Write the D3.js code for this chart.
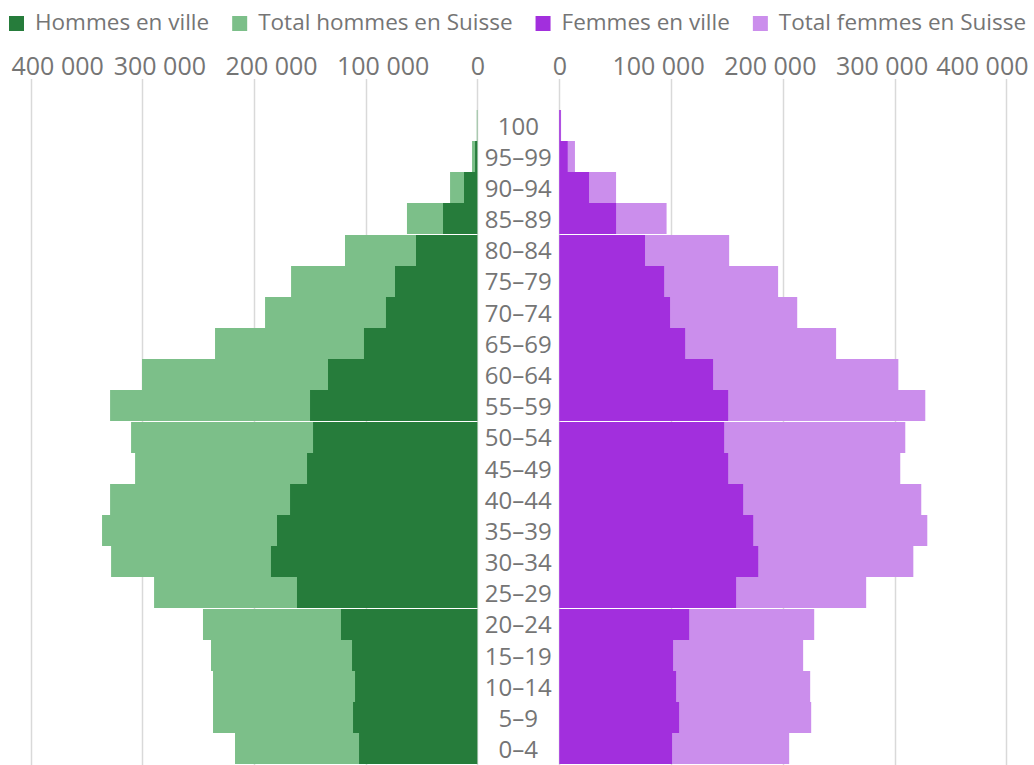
<!DOCTYPE html>
<html><head><meta charset="utf-8">
<script src="https://cdn.jsdelivr.net/npm/d3@7"></script>
<style>
html,body{margin:0;padding:0;background:#fff;}
svg{display:block;font-family:"Open Sans",sans-serif;}
</style></head>
<body><svg id="chart" width="1034" height="765"></svg>
<script>
const ageGroups = ["100","95–99","90–94","85–89","80–84","75–79","70–74","65–69","60–64","55–59","50–54","45–49","40–44","35–39","30–34","25–29","20–24","15–19","10–14","5–9","0–4"];
const hommesVille  = [100, 2000, 11900, 30700, 54900, 73700, 81800, 101500, 133700, 149800, 147100, 152500, 167700, 179400, 184800, 161500, 122100, 112200, 109500, 111300, 105900];
const hommesSuisse = [500, 4700, 24400, 63000, 118500, 166800, 190100, 234900, 300300, 328900, 310100, 306500, 328900, 336100, 328000, 289500, 245700, 238500, 236700, 236700, 217000];
const femmesVille  = [1200, 7500, 26600, 50800, 76700, 93800, 99100, 112600, 137600, 151100, 147500, 151100, 164500, 173500, 178000, 158200, 116200, 101800, 104500, 107200, 100900];
const femmesSuisse = [1600, 14000, 50800, 96000, 152000, 195800, 212900, 247700, 303400, 327500, 309600, 305100, 323900, 329300, 316800, 274600, 228100, 218200, 224500, 225400, 205700];
const tickValues = [0, 100000, 200000, 300000, 400000];
const seriesNames = ["Hommes en ville", "Total hommes en Suisse", "Femmes en ville", "Total femmes en Suisse"];
const seriesColors = ["#267c3b", "#7cbf89", "#a22fdd", "#cb8eec"];

const svg = d3.select("#chart");
const textColor = "#757575";
const fmt = v => d3.format(",")(v).replace(/,/g, " ");
const W = 1034;

const xL = d3.scaleLinear().domain([0, 400000]).range([477.3, 30.7]);
const xR = d3.scaleLinear().domain([0, 400000]).range([559.3, 1006.3]);
const y = d3.scaleBand().domain(ageGroups).range([110.4, 765]).paddingInner(0).paddingOuter(0);
const bh = Math.floor(y.bandwidth());

// gridlines
const grid = svg.append("g");
[xL, xR].forEach(sc => {
  grid.selectAll(null).data(tickValues).enter().append("line")
    .attr("x1", d => Math.round(sc(d)) + 0.5).attr("x2", d => Math.round(sc(d)) + 0.5)
    .attr("y1", 79).attr("y2", 765)
    .attr("stroke", "#d9d9d9").attr("stroke-width", 1.5);
});

// axes (top) - labels nudged inward like the original
function drawAxis(sc, shift) {
  const ax = d3.axisTop(sc).tickValues(tickValues).tickFormat(fmt).tickSize(0).tickPadding(0);
  const g = svg.append("g").attr("transform", "translate(0,75)").call(ax);
  g.select(".domain").remove();
  g.selectAll("text").attr("fill", textColor).style("font-size", "25px")
    .style("font-family", "'Open Sans',sans-serif").attr("dy", 0)
    .each(function(d) {
      if (d === 0) return;
      const w = this.getComputedTextLength();
      const cx = sc(d);
      let nx = cx + shift;
      nx = Math.max(nx, 11 + w / 2 - cx + cx);
      nx = Math.min(nx, W - 6 - w / 2);
      d3.select(this).attr("x", nx - cx);
    });
}
drawAxis(xL, 17);
drawAxis(xR, -13);

// bars
function bars(data, sc, color, side) {
  svg.append("g").selectAll("rect").data(data).enter().append("rect")
    .attr("x", (d) => side === "L" ? sc(d) : sc(0))
    .attr("width", d => Math.abs(sc(d) - sc(0)))
    .attr("y", (d, i) => Math.floor(y(ageGroups[i])))
    .attr("height", bh)
    .attr("fill", color);
}
bars(hommesSuisse, xL, seriesColors[1], "L");
bars(hommesVille, xL, seriesColors[0], "L");
bars(femmesSuisse, xR, seriesColors[3], "R");
bars(femmesVille, xR, seriesColors[2], "R");

// age labels
svg.append("g").selectAll("text").data(ageGroups).enter().append("text")
  .attr("x", (xL(0) + xR(0)) / 2)
  .attr("y", d => y(d) + y.bandwidth() / 2)
  .attr("dy", "0.36em")
  .attr("text-anchor", "middle")
  .attr("fill", textColor)
  .style("font-size", "24px")
  .text(d => d);

// legend
const leg = svg.append("g");
let lx = 9;
seriesNames.forEach((name, i) => {
  leg.append("rect").attr("x", lx).attr("y", 16).attr("width", 15).attr("height", 15).attr("fill", seriesColors[i]);
  const t = leg.append("text").attr("x", lx + 26).attr("y", 30).attr("fill", textColor)
    .style("font-size", "22.5px").text(name);
  lx += 26 + t.node().getComputedTextLength() + 23;
});
</script></body></html>
